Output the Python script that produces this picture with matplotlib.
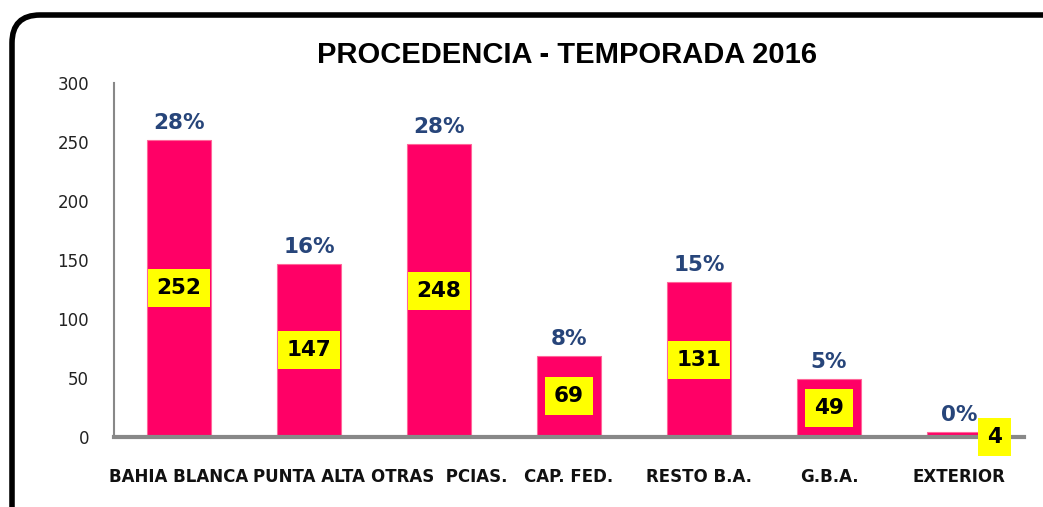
import matplotlib.pyplot as plt
from matplotlib.patches import FancyBboxPatch
from matplotlib.transforms import IdentityTransform

categories = ['BAHIA BLANCA', 'PUNTA ALTA', 'OTRAS  PCIAS.', 'CAP. FED.', 'RESTO B.A.', 'G.B.A.', 'EXTERIOR']
counts = [252, 147, 248, 69, 131, 49, 4]
percents = ['28%', '16%', '28%', '8%', '15%', '5%', '0%']
yticks = [0, 50, 100, 150, 200, 250, 300]

fig = plt.figure(figsize=(10.43, 5.07), dpi=100)
ax = fig.add_axes([114 / 1043, 70 / 507, 910 / 1043, 354 / 507])

x = list(range(len(categories)))
ax.bar(x, counts, width=0.49, color='#FF0066', edgecolor='#FF6699', linewidth=0.8)

ax.set_xlim(-0.5, 6.5)
ax.set_ylim(0, 300)
ax.set_yticks(yticks)
ax.set_yticklabels([str(t) for t in yticks], fontsize=12, color='#222222')
ax.tick_params(axis='y', length=0, pad=18)
ax.set_xticks(x)
ax.set_xticklabels(categories, fontsize=12, fontweight='bold', color='#111111',
                   family=['Liberation Sans Narrow', 'DejaVu Sans'])
ax.tick_params(axis='x', length=0, pad=22)

for s in ['top', 'right']:
    ax.spines[s].set_visible(False)
ax.spines['left'].set_color('#888888')
ax.spines['left'].set_linewidth(1.5)
ax.spines['bottom'].set_color('#888888')
ax.spines['bottom'].set_linewidth(3)

for i, (c, p) in enumerate(zip(counts, percents)):
    ax.annotate(p, (i, c), xytext=(0, 5), textcoords='offset points',
                ha='center', va='bottom', fontsize=15.5, fontweight='bold',
                color='#27457A')
    box = dict(boxstyle='square,pad=0.42', fc='#FFFF00', ec='none')
    xi, yi = (i, c / 2) if c > 20 else (i + 0.27, 0)
    ax.text(xi, yi, str(c), ha='center', va='center', fontsize=15.5,
            fontweight='bold', color='black', bbox=box)

fig.text(567 / 1043, 1 - 55 / 507, 'PROCEDENCIA - TEMPORADA 2016', ha='center', va='center',
         fontsize=21, fontweight='bold', color='black', family='Liberation Sans')

border = FancyBboxPatch((12, -30), 1060, 522, boxstyle='round,pad=0,rounding_size=28',
                        transform=IdentityTransform(), fill=False, ec='black', lw=4,
                        clip_on=False)
fig.patches.append(border)

fig.savefig('out.png', dpi=100)
